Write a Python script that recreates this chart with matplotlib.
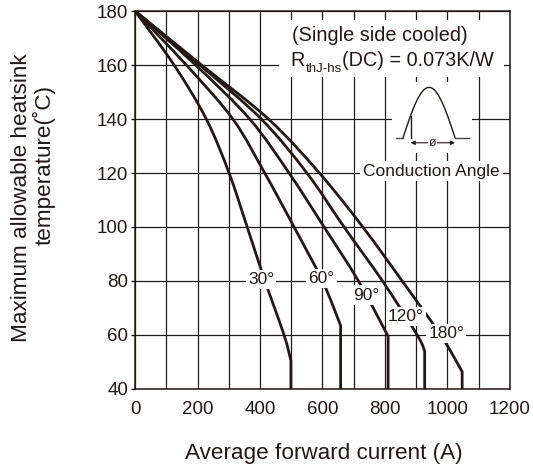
import numpy as np
import matplotlib
matplotlib.use('Agg')
import matplotlib.pyplot as plt
from matplotlib.patches import Rectangle, PathPatch
from matplotlib.path import Path

plt.rcParams['font.family'] = ['Liberation Sans', 'DejaVu Sans']

# ---- data ----
angle_labels = ['30°', '60°', '90°', '120°', '180°']
current_30 = [0, 125, 228, 301, 359, 416, 477, 499, 499]
temp_30 = [180, 160, 140, 120, 100, 80, 60, 50.5, 40]
current_60 = [0, 164, 313, 415, 509, 600, 658, 658]
temp_60 = [180, 160, 140, 120, 100, 80, 63.5, 40]
current_90 = [0, 194, 367, 493, 605, 715, 810, 810]
temp_90 = [180, 160, 140, 120, 100, 80, 59.5, 40]
current_120 = [0, 207, 404, 550, 669, 792, 903, 927, 927]
temp_120 = [180, 160, 140, 120, 100, 80, 60, 54, 40]
current_180 = [0, 213, 427, 590, 729, 855, 978, 1047, 1047]
temp_180 = [180, 160, 140, 120, 100, 80, 60, 46.4, 40]

x_ticks = [0, 200, 400, 600, 800, 1000, 1200]
y_ticks = [40, 60, 80, 100, 120, 140, 160, 180]

series = [(current_30, temp_30), (current_60, temp_60), (current_90, temp_90),
          (current_120, temp_120), (current_180, temp_180)]
label_pos = [(404, 80.4), (597, 81), (740, 74.8), (866, 66.8), (996, 60.6)]

fig = plt.figure(figsize=(5.33, 4.75), dpi=100)
ax = fig.add_axes([0.2533, 0.1811, 0.7035, 0.7957])

curve_color = '#231815'
grid_color = '#1a1a1a'

ax.set_xlim(0, 1200)
ax.set_ylim(40, 180)
ax.set_xticks(x_ticks)
ax.set_xticks(np.arange(100, 1200, 200), minor=True)
ax.set_yticks(y_ticks)
ax.grid(True, which='both', color=grid_color, lw=0.9, zorder=1)
ax.set_axisbelow(True)
ax.tick_params(axis='x', which='both', length=0, pad=9, labelsize=13.5, colors='#231815')
ax.tick_params(axis='y', which='both', length=3, width=1, pad=2, labelsize=13.5, colors='#231815')
for s in ax.spines.values():
    s.set_linewidth(1.1)
    s.set_color('#231815')


def smooth_path(cx, ty):
    """Catmull-Rom curve through the read points up to the knee, then the vertical drop."""
    pts = np.column_stack([cx, ty]).astype(float)
    k = len(pts) - 2  # knee index
    curve = pts[:k + 1]
    verts = [curve[0]]
    codes = [Path.MOVETO]
    n = len(curve)
    for i in range(n - 1):
        p0 = curve[max(i - 1, 0)]
        p1 = curve[i]
        p2 = curve[i + 1]
        p3 = curve[min(i + 2, n - 1)]
        c1 = p1 + (p2 - p0) / 6.0
        c2 = p2 - (p3 - p1) / 6.0
        verts += [c1, c2, p2]
        codes += [Path.CURVE4] * 3
    verts.append(pts[-1])
    codes.append(Path.LINETO)
    return Path(verts, codes)


for (cx, ty) in series:
    ax.add_patch(PathPatch(smooth_path(cx, ty), fc='none', ec=curve_color, lw=2.0,
                           zorder=3, joinstyle='miter'))

for lab, (lx, ly) in zip(angle_labels, label_pos):
    ax.text(lx, ly, lab, ha='center', va='center', fontsize=12.5, color=curve_color, zorder=5,
            bbox=dict(fc='white', ec='none', pad=1.5))

# white panel behind the annotation block
ax.add_patch(Rectangle((461, 155.6), 1181 - 461, 176.7 - 155.6, fc='white', ec='none', zorder=2))
ax.text(784, 171.1, '(Single side cooled)', ha='center', va='center', fontsize=14.3,
        color=curve_color, zorder=5)
t1 = ax.text(498, 158.0, 'R', ha='left', va='bottom', fontsize=14.3, color=curve_color, zorder=5)
t2 = ax.annotate('thJ-hs', xy=(1, 0), xycoords=t1, xytext=(0.3, -3), textcoords='offset points',
                 ha='left', va='bottom', fontsize=9.5, color=curve_color, zorder=5)
t3 = ax.annotate('(DC) = 0.073K/W', xy=(1, 0), xycoords=t2, xytext=(0.3, 3), textcoords='offset points',
                 ha='left', va='bottom', fontsize=14.3, color=curve_color, zorder=5)

# conduction angle icon
ax.add_patch(Rectangle((822, 127.4), 1078 - 822, 153.7 - 127.4, fc='white', ec='none', zorder=2))
base_T = 133.1
peak_T = 151.7
x0, x1 = 858, 1024
xs = np.linspace(x0, x1, 80)
ys = base_T + (peak_T - base_T) * np.sin(np.pi * (xs - x0) / (x1 - x0))
ax.plot(xs, ys, color=curve_color, lw=1.0, zorder=4)
ax.plot([834, x0], [base_T, base_T], color='#444444', lw=1.0, zorder=4)
ax.plot([x1, 1069], [base_T, base_T], color='#444444', lw=1.0, zorder=4)
xf = 882
yf = base_T + (peak_T - base_T) * np.sin(np.pi * (xf - x0) / (x1 - x0))
ax.plot([xf, xf], [base_T, yf], color=curve_color, lw=1.0, zorder=4)
ax.annotate('', xy=(xf, 131.2), xytext=(x1, 131.2),
            arrowprops=dict(arrowstyle='<|-|>', color=curve_color, lw=0.8,
                            mutation_scale=6, shrinkA=0, shrinkB=0), zorder=4)
ax.text(953, 131.2, 'ø', ha='center', va='center', fontsize=9, color=curve_color, zorder=5,
        bbox=dict(fc='white', ec='none', pad=0.5))

ax.text(949, 120.7, 'Conduction Angle', ha='center', va='center', fontsize=12.5,
        color=curve_color, zorder=5, bbox=dict(fc='white', ec='none', pad=2))

fig.text(323.5 / 533, 1 - 453 / 475, 'Average forward current (A)', ha='center', va='center',
         fontsize=16.2, color=curve_color)
fig.text(22 / 533, 1 - 198 / 475, 'Maximum allowable heatsink', ha='center', va='center',
         rotation=90, fontsize=16.2, color=curve_color)
fig.text(44 / 533, 1 - 165 / 475, 'temperature(˚C)', ha='center', va='center',
         rotation=90, fontsize=16.2, color=curve_color)

fig.savefig('out.png', dpi=100)
